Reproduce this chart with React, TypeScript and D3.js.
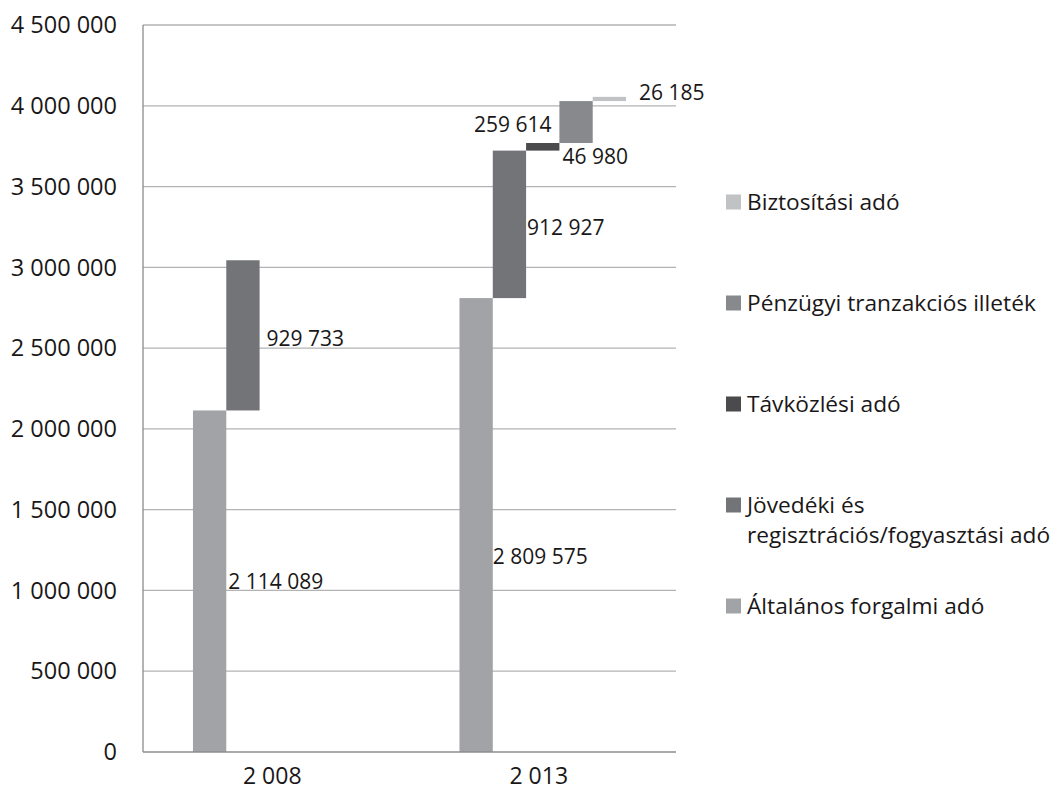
import React from 'react';
import * as d3 from 'd3';

const years = [2008, 2013];
const seriesNames = [
  'Általános forgalmi adó',
  'Jövedéki és regisztrációs/fogyasztási adó',
  'Távközlési adó',
  'Pénzügyi tranzakciós illeték',
  'Biztosítási adó',
];
const values2008 = [2114089, 929733, 0, 0, 0];
const values2013 = [2809575, 912927, 46980, 259614, 26185];
const yTicks = [0, 500000, 1000000, 1500000, 2000000, 2500000, 3000000, 3500000, 4000000, 4500000];

const colors = ['#a2a3a7', '#737478', '#4b4b4d', '#88898d', '#c1c2c4'];
// label placement tweaks [side, dx, dy] per year / series
const labelTweaks2008: [string, number, number][] = [['r', 2, 0], ['r', 7, 3], ['r', 0, 0], ['r', 0, 0], ['r', 0, 0]];
const labelTweaks2013: [string, number, number][] = [['r', 0, 32], ['r', 1, 3], ['r', 3, 10], ['l', -8, 3], ['r', 13, -6]];

const legendOrder = [4, 3, 2, 1, 0];
const legendLines: Record<number, string[]> = {
  1: ['Jövedéki és', 'regisztrációs/fogyasztási adó'],
};

const W = 1061;
const H = 798;
const left = 143;
const right = 676;
const top = 25;
const bottom = 752;
const font = "'Open Sans', sans-serif";
const ink = '#1a1718';

const fmt = d3.formatLocale({ thousands: ' ', grouping: [3], decimal: ',', currency: ['', ''] }).format(',');

export default function App() {
  const x = d3.scaleBand<number>().domain(years).range([left, right]).paddingInner(0.375).paddingOuter(0.1875);
  const xs = d3.scaleBand<number>().domain(d3.range(seriesNames.length)).range([0, x.bandwidth()]);
  const y = d3.scaleLinear().domain([0, 4500000]).range([bottom, top]);

  const rows = [
    { year: 2008, vals: values2008, tweaks: labelTweaks2008 },
    { year: 2013, vals: values2013, tweaks: labelTweaks2013 },
  ];

  return (
    <svg width={W} height={H} style={{ position: 'absolute', left: 0, top: 0 }} fontFamily={font}>
      <rect width={W} height={H} fill="#fff" />
      {yTicks.map((t) => (
        <g key={t}>
          {t > 0 && <line x1={left} x2={right} y1={y(t)} y2={y(t)} stroke="#b3b3b3" strokeWidth={1.3} />}
          <text x={117} y={y(t)} dy="0.35em" textAnchor="end" fontSize={23.5} fill={ink}>
            {fmt(t)}
          </text>
        </g>
      ))}
      <line x1={left} x2={left} y1={top} y2={bottom} stroke="#8c8c8c" strokeWidth={1.3} />
      {rows.map((r) => {
        const bases = d3.cumsum([0, ...r.vals]);
        return (
          <g key={r.year}>
            {r.vals.map((v, i) => {
              if (!v) return null;
              const x0 = (x(r.year) ?? 0) + (xs(i) ?? 0);
              const y0 = y(bases[i]);
              const y1 = y(bases[i] + v);
              const [side, dx, dy] = r.tweaks[i];
              const ly = (y0 + y1) / 2 + dy;
              const lx = side === 'r' ? x0 + xs.bandwidth() + dx : x0 + dx;
              return (
                <g key={i}>
                  <rect x={x0} y={y1} width={xs.bandwidth()} height={y0 - y1} fill={colors[i]} />
                  <text x={lx} y={ly} dy="0.35em" textAnchor={side === 'r' ? 'start' : 'end'} fontSize={21} fill={ink}>
                    {fmt(v)}
                  </text>
                </g>
              );
            })}
            <text x={(x(r.year) ?? 0) + x.bandwidth() / 2 - 4} y={776} dy="0.35em" textAnchor="middle" fontSize={23} fill={ink}>
              {fmt(r.year)}
            </text>
          </g>
        );
      })}
      <line x1={left} x2={right} y1={bottom} y2={bottom} stroke="#8c8c8c" strokeWidth={1.3} />
      {legendOrder.map((s, k) => {
        const ly = 202 + k * 101;
        const lines = legendLines[s] ?? [seriesNames[s]];
        return (
          <g key={s}>
            <rect x={726} y={ly - 7.5} width={15} height={15} fill={colors[s]} />
            {lines.map((ln, j) => (
              <text key={j} x={747} y={ly + j * 30} dy="0.35em" fontSize={22.7} fill={ink}>
                {ln}
              </text>
            ))}
          </g>
        );
      })}
    </svg>
  );
}
